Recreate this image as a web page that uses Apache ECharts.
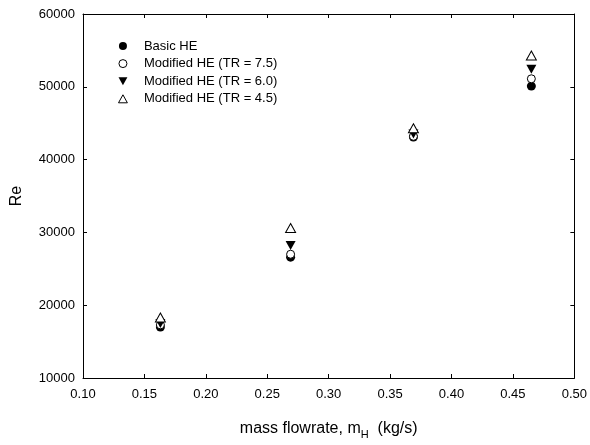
<!DOCTYPE html>
<html>
<head>
<meta charset="utf-8">
<script src="https://cdn.jsdelivr.net/npm/echarts@6/dist/echarts.min.js"></script>
<style>html,body{margin:0;padding:0;background:#fff;}#c{width:590px;height:445px;}</style>
</head>
<body>
<div id="c"></div>
<script>
const massFlow = [0.163, 0.269, 0.369, 0.465];
const basicHE = [17000, 26600, 43100, 50100];
const modTR75 = [17300, 27000, 43200, 51100];
const modTR60 = [17500, 28200, 43500, 52400];
const modTR45 = [18300, 30600, 44300, 54300];
const seriesNames = ['Basic HE', 'Modified HE (TR = 7.5)', 'Modified HE (TR = 6.0)', 'Modified HE (TR = 4.5)'];
const xTicks = [0.10, 0.15, 0.20, 0.25, 0.30, 0.35, 0.40, 0.45, 0.50];
const yTicks = [10000, 20000, 30000, 40000, 50000, 60000];

const font = 'Liberation Sans, Arial, sans-serif';
function pairs(ys) { return massFlow.map((x, i) => [x, ys[i]]); }
const downTri = 'path://M0,0 L10,0 L5,9 Z';
const upTri = 'path://M5,0 L10,9 L0,9 Z';

const chart = echarts.init(document.getElementById('c'), null, {renderer: 'canvas'});
const axisCommon = {
  axisLine: {show: true, lineStyle: {color: '#000', width: 1}},
  axisTick: {show: true, inside: true, length: 4, lineStyle: {color: '#000'}},
  splitLine: {show: false}
};
const filled = {color: '#000', borderColor: '#000', borderWidth: 0, opacity: 1};
const hollow = {color: '#fff', borderColor: '#000', borderWidth: 1, opacity: 1};
chart.setOption({
  animation: false,
  backgroundColor: '#fff',
  grid: {left: 83, right: 14, top: 14, bottom: 62},
  legend: {
    orient: 'vertical', left: 113, top: 34,
    itemWidth: 10, itemHeight: 8, itemGap: 3.6,
    textStyle: {fontFamily: font, fontSize: 13, color: '#000', lineHeight: 14, padding: [0, 0, 0, 11]},
    data: [
      {name: seriesNames[0], icon: 'circle', itemStyle: filled},
      {name: seriesNames[1], icon: 'circle', itemStyle: hollow},
      {name: seriesNames[2], icon: downTri, itemStyle: filled},
      {name: seriesNames[3], icon: upTri, itemStyle: hollow}
    ]
  },
  xAxis: [
    Object.assign({
      type: 'value', min: xTicks[0], max: xTicks[xTicks.length - 1], interval: 0.05,
      position: 'bottom',
      axisLabel: {fontFamily: font, fontSize: 13, color: '#000', margin: 10,
        formatter: v => v.toFixed(2)},
      name: 'mass flowrate, m{sub|H}  (kg/s)', nameLocation: 'middle', nameGap: 39,
      nameTextStyle: {fontFamily: font, fontSize: 16, color: '#000',
        rich: {sub: {fontFamily: font, fontSize: 11, verticalAlign: 'bottom', padding: [12, 0, 0, 0]}}}
    }, axisCommon),
    Object.assign({
      type: 'value', min: xTicks[0], max: xTicks[xTicks.length - 1], interval: 0.05,
      position: 'top', axisLabel: {show: false}
    }, axisCommon)
  ],
  yAxis: [
    Object.assign({
      type: 'value', min: yTicks[0], max: yTicks[yTicks.length - 1], interval: 10000,
      position: 'left',
      axisLabel: {fontFamily: font, fontSize: 13, color: '#000', margin: 8, formatter: v => String(v)},
      name: 'Re', nameLocation: 'middle', nameGap: 58, nameRotate: 90,
      nameTextStyle: {fontFamily: font, fontSize: 16, color: '#000'}
    }, axisCommon),
    Object.assign({
      type: 'value', min: yTicks[0], max: yTicks[yTicks.length - 1], interval: 10000,
      position: 'right', axisLabel: {show: false}
    }, axisCommon)
  ],
  series: [
    {name: seriesNames[0], type: 'scatter', data: pairs(basicHE), symbol: 'circle', symbolSize: 9,
      itemStyle: filled},
    {name: seriesNames[1], type: 'scatter', data: pairs(modTR75), symbol: 'circle', symbolSize: 8,
      itemStyle: hollow},
    {name: seriesNames[2], type: 'scatter', data: pairs(modTR60), symbol: downTri, symbolSize: [10, 9],
      itemStyle: filled},
    {name: seriesNames[3], type: 'scatter', data: pairs(modTR45), symbol: upTri, symbolSize: [10, 9],
      itemStyle: hollow}
  ]
});
</script>
</body>
</html>
